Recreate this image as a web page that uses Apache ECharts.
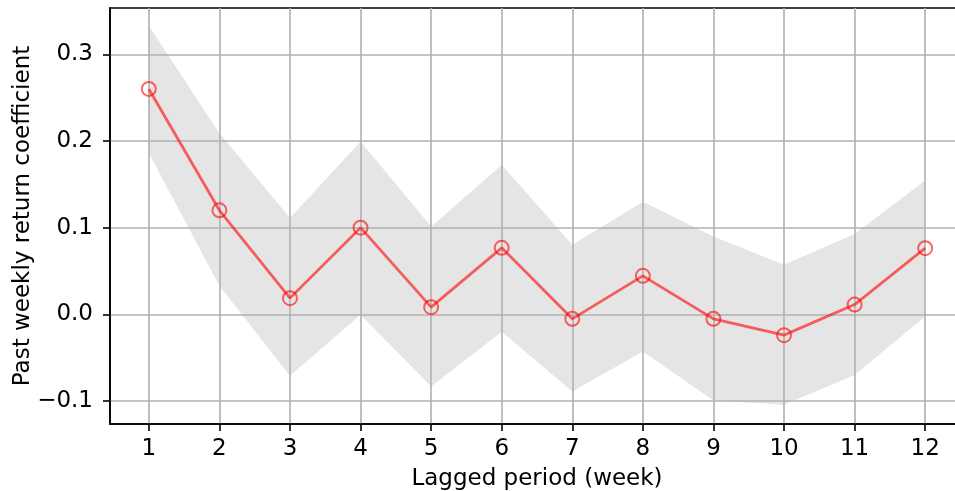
<!DOCTYPE html>
<html>
<head>
<meta charset="utf-8">
<script src="https://cdn.jsdelivr.net/npm/echarts@6/dist/echarts.min.js"></script>
<style>html,body{margin:0;padding:0;background:#fff;}#c{width:955px;height:491px;}</style>
</head>
<body>
<div id="c"></div>
<script>
const lags = [1, 2, 3, 4, 5, 6, 7, 8, 9, 10, 11, 12];
const coef = [0.260, 0.120, 0.0187, 0.100, 0.0083, 0.0767, -0.0052, 0.0444, -0.0052, -0.024, 0.0113, 0.0763];
const upper = [0.3328, 0.209, 0.111, 0.1993, 0.1013, 0.1724, 0.0802, 0.130, 0.0897, 0.0571, 0.0928, 0.1543];
const lower = [0.186, 0.0329, -0.0709, -0.0006, -0.0833, -0.0202, -0.089, -0.0429, -0.0994, -0.1044, -0.0701, -0.0025];
const yTicks = [-0.1, 0.0, 0.1, 0.2, 0.3];
const xLabel = 'Lagged period (week)';
const yLabel = 'Past weekly return coefficient';

const FONT = 'DejaVu Sans';
const chart = echarts.init(document.getElementById('c'), null, {renderer: 'canvas'});
const red = 'rgba(255,0,0,0.6)';

const bandData = lags.map((x, i) => [x, lower[i], upper[i]]);

chart.setOption({
  animation: false,
  grid: {left: 110, right: -9, top: 8, bottom: 67, containLabel: false, outerBoundsMode: 'none',
    show: true, borderColor: '#000', borderWidth: 1.6, backgroundColor: 'transparent'},
  xAxis: {
    type: 'value', min: 0.45, max: 12.55, interval: 1, z: 3,
    name: xLabel, nameLocation: 'middle', nameGap: 44, nameMoveOverlap: false,
    nameTextStyle: {fontFamily: FONT, fontSize: 23, color: '#000'},
    axisLine: {show: true, onZero: false, lineStyle: {color: '#000', width: 1.6}},
    axisTick: {show: true, length: 7, lineStyle: {color: '#000', width: 1.6}, customValues: lags},
    axisLabel: {fontFamily: FONT, fontSize: 23, color: '#000', margin: 14, customValues: lags,
      formatter: v => String(v)},
    splitLine: {show: true, lineStyle: {color: '#b0b0b0', width: 1.6}}
  },
  yAxis: {
    type: 'value', min: -0.1265, max: 0.3534, interval: 0.1, z: 3,
    name: yLabel, nameLocation: 'middle', nameGap: 75, nameMoveOverlap: false,
    nameTextStyle: {fontFamily: FONT, fontSize: 23, color: '#000'},
    axisLine: {show: true, onZero: false, lineStyle: {color: '#000', width: 1.6}},
    axisTick: {show: true, length: 7, lineStyle: {color: '#000', width: 1.6}, customValues: yTicks},
    axisLabel: {fontFamily: FONT, fontSize: 23, color: '#000', margin: 17, customValues: yTicks,
      formatter: v => v.toFixed(1).replace('-', '\u2212')},
    splitLine: {show: true, lineStyle: {color: '#b0b0b0', width: 1.6}}
  },
  series: [
    {
      type: 'custom', z: 1, silent: true,
      data: bandData,
      encode: {x: 0, y: [1, 2]},
      renderItem: function (params, api) {
        if (params.dataIndex !== 0) return null;
        const pts = [];
        for (let i = 0; i < lags.length; i++) pts.push(api.coord([lags[i], upper[i]]));
        for (let i = lags.length - 1; i >= 0; i--) pts.push(api.coord([lags[i], lower[i]]));
        return {type: 'polygon', shape: {points: pts}, style: {fill: '#e5e5e5'}};
      }
    },
    {
      type: 'line', z: 5,
      data: lags.map((x, i) => [x, coef[i]]),
      symbol: 'circle', symbolSize: 14, showAllSymbol: true,
      lineStyle: {color: red, width: 2.8},
      itemStyle: {color: 'rgba(0,0,0,0)', borderColor: red, borderWidth: 2}
    }
  ]
});
</script>
</body>
</html>
